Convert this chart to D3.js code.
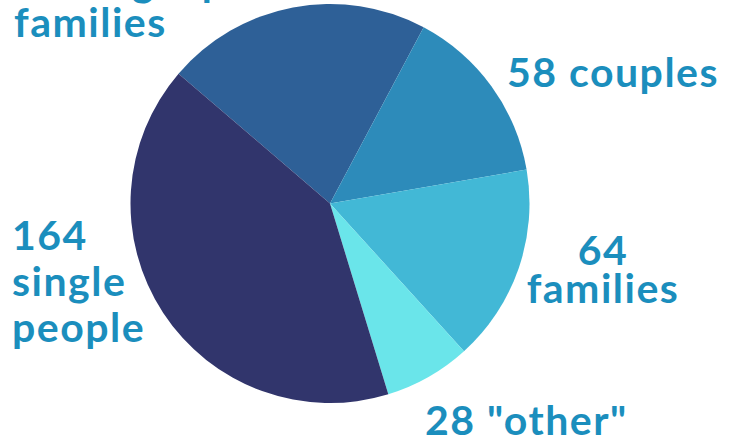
<!DOCTYPE html>
<html>
<head>
<meta charset="utf-8">
<script src="https://cdn.jsdelivr.net/npm/d3@7"></script>
<style>
  html, body { margin: 0; padding: 0; background: #fff; overflow: hidden; }
  svg { display: block; }
  .label { font-family: "Lato", "Open Sans", sans-serif; font-weight: 700; fill: #1b8ebd; letter-spacing: 1.5px; }
</style>
</head>
<body>
<svg></svg>
<script>
// slices, in drawing order (clockwise)
const groups = ["single parent families", "couples", "families", "other", "single people"];
const counts = [86, 58, 64, 28, 164];
const colors = ["#2e6097", "#2d8bba", "#42b8d6", "#6ae5ea", "#31356c"];

// label text, one array of lines per slice
const labelLines = [
  ["86 single parent", "families"],
  ["58 couples"],
  ["64", "families"],
  ["28 \"other\""],
  ["164", "single", "people"]
];

const width = 737;
const height = 441;
const radius = 199.5;
const cx = 330, cy = 203.5;
const fontSize = 41;

const svg = d3.select("svg")
  .attr("width", width)
  .attr("height", height);

const g = svg.append("g")
  .attr("transform", `translate(${cx}, ${cy})`);

const arc = d3.arc()
  .innerRadius(0)
  .outerRadius(radius);

const start = -49.4 * Math.PI / 180;
const slices = d3.pie()
  .sort(null)
  .startAngle(start)
  .endAngle(start + 2 * Math.PI)
  .value(d => d)(counts);

g.selectAll("path")
  .data(slices)
  .enter()
  .append("path")
  .attr("d", arc)
  .attr("fill", (d, i) => colors[i]);

// label anchors: x, first baseline, alignment, line gap
const labelPos = [
  {x: 14, y: -4, anchor: "start", gap: 41},
  {x: 507, y: 87, anchor: "start", gap: 44},
  {x: 603, y: 265, anchor: "middle", gap: 38},
  {x: 425, y: 435, anchor: "start", gap: 44},
  {x: 12, y: 250, anchor: "start", gap: 46}
];

const labels = svg.append("g").attr("class", "labels");
labelLines.forEach((lines, i) => {
  const p = labelPos[i];
  const t = labels.append("text")
    .attr("class", "label")
    .attr("font-size", fontSize)
    .attr("text-anchor", p.anchor);
  lines.forEach((line, j) => {
    t.append("tspan")
      .attr("x", p.x)
      .attr("y", p.y + j * p.gap)
      .text(line);
  });
});
</script>
</body>
</html>
